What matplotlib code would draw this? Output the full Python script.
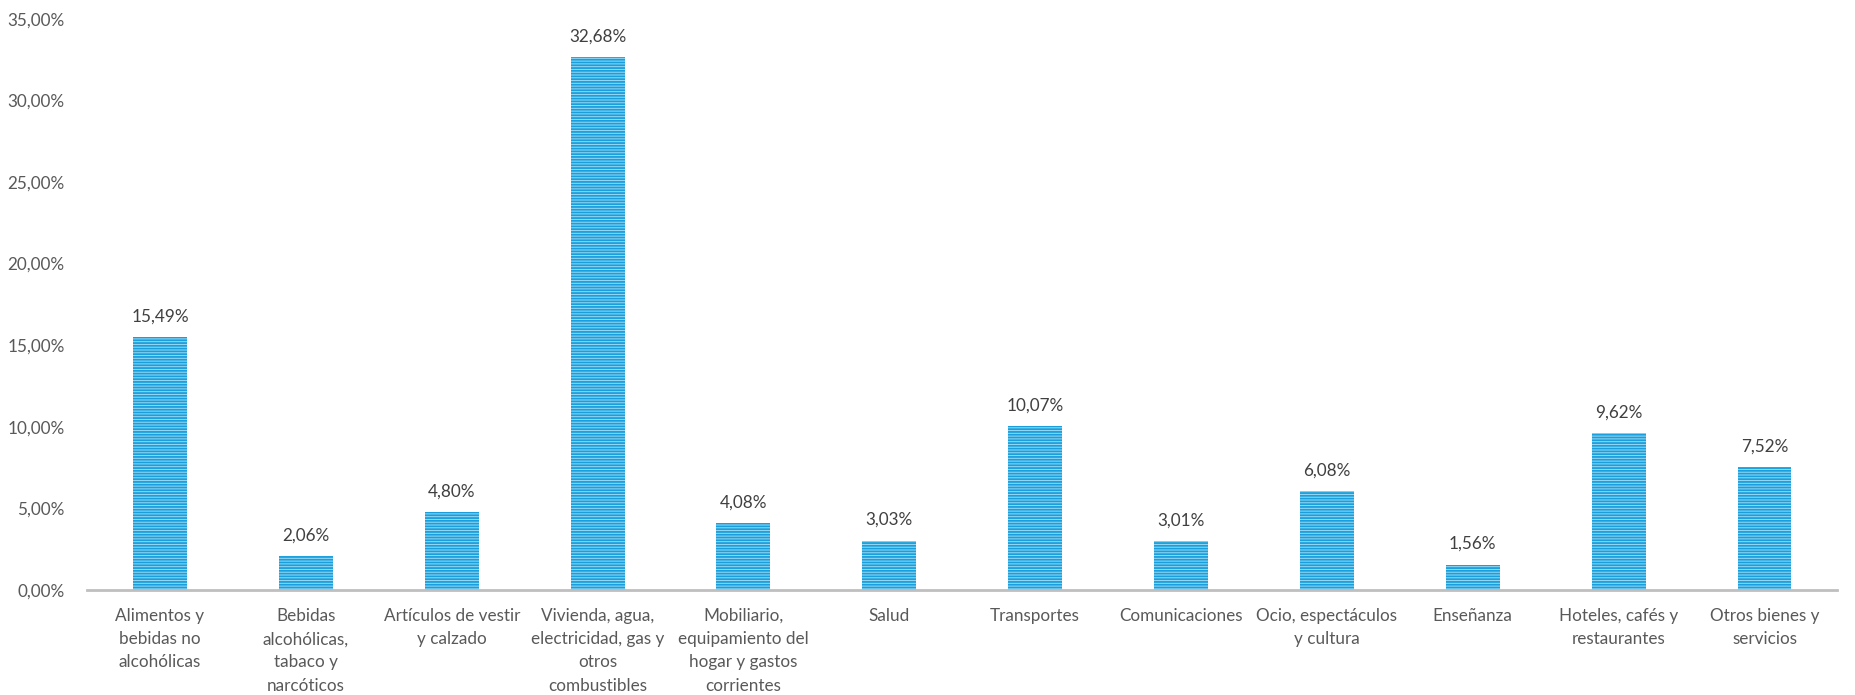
import matplotlib.pyplot as plt
from matplotlib.ticker import FuncFormatter

categorias = [
    "Alimentos y\nbebidas no\nalcohólicas",
    "Bebidas\nalcohólicas,\ntabaco y\nnarcóticos",
    "Artículos de vestir\ny calzado",
    "Vivienda, agua,\nelectricidad, gas y\notros\ncombustibles",
    "Mobiliario,\nequipamiento del\nhogar y gastos\ncorrientes",
    "Salud",
    "Transportes",
    "Comunicaciones",
    "Ocio, espectáculos\ny cultura",
    "Enseñanza",
    "Hoteles, cafés y\nrestaurantes",
    "Otros bienes y\nservicios",
]
valores = [15.49, 2.06, 4.80, 32.68, 4.08, 3.03, 10.07, 3.01, 6.08, 1.56, 9.62, 7.52]
y_ticks = [0, 5, 10, 15, 20, 25, 30, 35]

plt.rcParams['font.family'] = ['Lato', 'DejaVu Sans']
plt.rcParams['hatch.linewidth'] = 1.3
plt.rcParams['hatch.color'] = '#1a9fdc'


def pct(v, pos=None):
    return f"{v:.2f}%".replace('.', ',')


fig = plt.figure(figsize=(18.56, 6.95), dpi=100)
ax = fig.add_axes([0.0469, 0.151, 0.9431, 0.822])

x = range(len(valores))
bars = ax.bar(x, valores, width=0.37, color='#9adbf6', edgecolor='#1a9fdc',
              linewidth=0, hatch='------')

for xi, v in zip(x, valores):
    ax.annotate(pct(v), (xi, v), xytext=(0, 9), textcoords='offset points',
                ha='center', va='bottom', fontsize=12.3, color='#404040')

ax.set_xlim(-0.5, len(valores) - 0.5)
ax.set_ylim(0, 35)
ax.set_yticks(y_ticks)
ax.yaxis.set_major_formatter(FuncFormatter(pct))
ax.set_xticks(list(x))
ax.set_xticklabels(categorias, fontsize=12.3, color='#595959', linespacing=1.55)
ax.tick_params(axis='y', length=0, labelsize=12.3, labelcolor='#595959', pad=16)
ax.tick_params(axis='x', length=0, pad=13)

for s in ['top', 'right', 'left']:
    ax.spines[s].set_visible(False)
ax.spines['bottom'].set_color('#bfbfbf')
ax.spines['bottom'].set_linewidth(2)

fig.savefig('out.png', dpi=100)
